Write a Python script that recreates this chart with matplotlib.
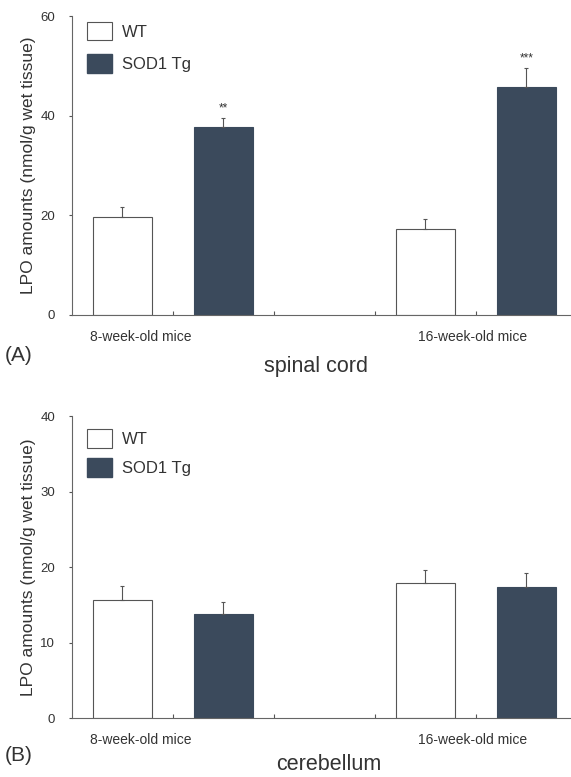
import numpy as np
import matplotlib
matplotlib.use('Agg')
import matplotlib.pyplot as plt
from matplotlib.patches import Patch

plt.rcParams['font.family'] = ['Liberation Sans', 'DejaVu Sans']

# Data
groups = ['8-week-old mice', '16-week-old mice']
series = ['WT', 'SOD1 Tg']

# spinal cord (A)
sc_wt = [19.7, 17.2]
sc_wt_err = [1.9, 2.0]
sc_tg = [37.8, 45.8]
sc_tg_err = [1.8, 3.8]
sc_marks = ['**', '***']

# cerebellum (B)
cb_wt = [15.6, 17.9]
cb_wt_err = [1.9, 1.7]
cb_tg = [13.8, 17.4]
cb_tg_err = [1.6, 1.8]

dark = '#3b4a5c'
text_c = '#333333'

fig = plt.figure(figsize=(5.71, 7.77), dpi=100)


def draw_panel(ax, wt, wt_err, tg, tg_err, ymax, ystep, marks=None, leg_y=1.0, leg_sp=0.8):
    x_wt = np.array([0.5, 3.5])
    x_tg = np.array([1.5, 4.5])
    ax.bar(x_wt, wt, width=0.58, color='white', edgecolor='#555555', linewidth=0.8,
           yerr=[np.zeros(2), wt_err], ecolor='#555555', capsize=1.5,
           error_kw={'elinewidth': 0.8, 'capthick': 0.8})
    ax.bar(x_tg, tg, width=0.58, color=dark, edgecolor=dark, linewidth=0.8,
           yerr=[np.zeros(2), tg_err], ecolor='#555555', capsize=1.5,
           error_kw={'elinewidth': 0.8, 'capthick': 0.8})
    if marks:
        for xi, v, e, m in zip(x_tg, tg, tg_err, marks):
            ax.text(xi, v + e + ymax * 0.01, m, ha='center', va='bottom',
                    fontsize=8.5, color=text_c)
    ax.set_xlim(0, 5)
    ax.set_ylim(0, ymax)
    ax.set_yticks(np.arange(0, ymax + 1, ystep))
    ax.set_xticks([1, 2, 3, 4])
    ax.set_xticklabels([])
    ax.tick_params(axis='x', direction='in', length=3, color='#555555')
    ax.tick_params(axis='y', direction='out', length=2, color='#555555', pad=10,
                   labelsize=9.5, labelcolor=text_c)
    for s in ['top', 'right']:
        ax.spines[s].set_visible(False)
    for s in ['left', 'bottom']:
        ax.spines[s].set_color('#666666')
        ax.spines[s].set_linewidth(0.8)
    ax.set_ylabel('LPO amounts (nmol/g wet tissue)', fontsize=12.5, color=text_c, labelpad=3)
    ax.text(0.68, -ymax * 0.05, groups[0], ha='center', va='top', fontsize=10, color=text_c)
    ax.text(3.97, -ymax * 0.05, groups[1], ha='center', va='top', fontsize=10, color=text_c)
    handles = [Patch(facecolor='white', edgecolor='#555555', linewidth=0.8),
               Patch(facecolor=dark, edgecolor=dark)]
    ax.legend(handles, series, loc='upper left', bbox_to_anchor=(0.0, leg_y),
              frameon=False, fontsize=12, handlelength=1.5, handleheight=1.3,
              labelspacing=leg_sp, handletextpad=0.6, labelcolor=text_c)


axA = fig.add_axes([0.126, 0.5946, 0.884, 0.3848])
draw_panel(axA, sc_wt, sc_wt_err, sc_tg, sc_tg_err, 60, 20, sc_marks, leg_y=1.03, leg_sp=0.85)
fig.text(0.008, 0.542, '(A)', fontsize=15, color=text_c, ha='left', va='center')
fig.text(0.553, 0.528, 'spinal cord', fontsize=15.5, color=text_c, ha='center', va='center')

axB = fig.add_axes([0.126, 0.0759, 0.884, 0.3887])
draw_panel(axB, cb_wt, cb_wt_err, cb_tg, cb_tg_err, 40, 10, leg_y=1.005, leg_sp=0.65)
fig.text(0.008, 0.028, '(B)', fontsize=15, color=text_c, ha='left', va='center')
fig.text(0.575, 0.016, 'cerebellum', fontsize=15.5, color=text_c, ha='center', va='center')

fig.savefig('out.png', dpi=100)
